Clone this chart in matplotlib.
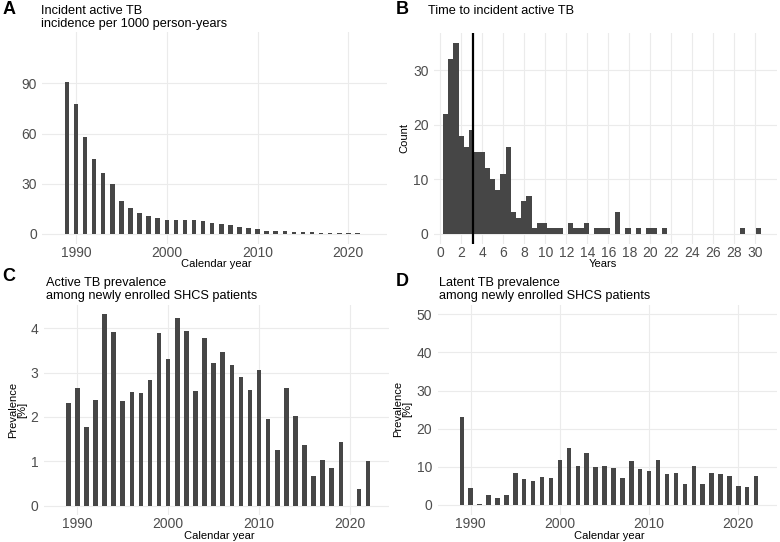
import numpy as np
import matplotlib.pyplot as plt

plt.rcParams['font.family'] = ['Liberation Sans', 'DejaVu Sans']

# Panel A: incidence per 1000 person-years
years = list(range(1989, 2023))
incidence = [91, 77.4, 57.8, 44.8, 36.6, 30, 19.8, 15.8, 12.6, 10.6, 9.8,
             8.6, 8.6, 8.6, 8.4, 7.8, 6.4, 5.8, 5.2, 4.4, 3.4, 3.0, 2.0,
             1.6, 1.6, 1.2, 1.0, 1.0, 0.8, 0.7, 0.5, 0.4, 0.3, 0.2]

# Panel B: histogram of time to incident TB (counts per bin)
hist_start = 0.25
hist_binwidth = 0.497
hist_counts = [22, 32, 35, 18, 16, 19, 15, 15, 12, 10, 8, 11, 16, 4, 3, 6, 7,
               1, 2, 2, 1, 1, 1, 0, 2, 1, 1, 2, 0, 1, 1, 1, 0, 4, 0, 1, 0, 1,
               0, 1, 1, 0, 1, 0, 0, 0, 0, 0, 0, 0, 0, 0, 0, 0, 0, 0, 0, 1, 0,
               0, 1]
median_time = 3.15

# Panel C: active TB prevalence [%]
active_prev = [2.31, 2.65, 1.78, 2.38, 4.32, 3.92, 2.36, 2.56, 2.53, 2.83,
               3.89, 3.31, 4.23, 3.94, 2.59, 3.78, 3.21, 3.46, 3.18, 2.90,
               2.60, 3.07, 1.95, 1.25, 2.65, 2.02, 1.37, 0.68, 1.02, 0.85,
               1.43, 0.0, 0.38, 1.01]

# Panel D: latent TB prevalence [%]
latent_prev = [23.2, 4.4, 0.35, 2.6, 1.75, 2.7, 8.3, 6.8, 6.2, 7.3, 7.2,
               11.7, 15.0, 10.3, 13.5, 10.0, 10.3, 9.6, 7.0, 11.6, 9.4, 9.0,
               11.7, 8.0, 8.3, 5.4, 10.3, 5.4, 8.5, 8.0, 7.7, 4.9, 4.7, 7.7]

W, H = 780, 542
bar_col = '#464646'
grid_col = '#EBEBEB'
tick_col = '#4D4D4D'

fig = plt.figure(figsize=(W / 100, H / 100), dpi=100)


def px_axes(l, t, r, b):
    return fig.add_axes([l / W, 1 - b / H, (r - l) / W, (b - t) / H])


def style(ax):
    for s in ax.spines.values():
        s.set_visible(False)
    ax.set_axisbelow(True)
    ax.grid(True, color=grid_col, linewidth=0.8)
    ax.tick_params(length=0, labelsize=10, labelcolor=tick_col)
    ax.tick_params(axis='x', pad=1.5)
    ax.tick_params(axis='y', pad=4)


def xlab(ax, s, x, top):
    ax.set_xlabel(s, fontsize=8)
    ax.xaxis.set_label_coords(x / W, 1 - top / H, transform=fig.transFigure)


def ylab(ax, s, right, mid):
    ax.set_ylabel(s, fontsize=8, linespacing=0.9)
    ax.yaxis.set_label_coords(right / W, 1 - mid / H, transform=fig.transFigure)


def ftext(x, y, s, **kw):
    fig.text(x / W, 1 - y / H, s, va='baseline', **kw)


# A
axA = px_axes(42.4, 31.9, 387.4, 243.6)
axA.bar(years, incidence, width=0.5, color=bar_col)
axA.set_xlim(1986.3, 2024.3)
axA.set_ylim(-5.75, 120.75)
axA.set_xticks([1990, 2000, 2010, 2020])
axA.set_yticks([0, 30, 60, 90])
style(axA)
xlab(axA, 'Calendar year', 216.3, 259.3)

# B
axB = px_axes(434, 33.5, 777, 243.5)
edges = hist_start + hist_binwidth * np.arange(len(hist_counts))
axB.bar(edges, hist_counts, width=hist_binwidth, align='edge', color=bar_col)
axB.axvline(median_time, color='black', linewidth=1.6)
axB.set_xlim(-0.61, 32.09)
axB.set_ylim(-1.75, 36.75)
axB.set_xticks(range(0, 31, 2))
axB.set_yticks([0, 10, 20, 30])
style(axB)
xlab(axB, 'Years', 603.3, 259.3)
ylab(axB, 'Count', 409, 138)

# C
axC = px_axes(43.7, 304.5, 389, 515.3)
axC.bar(years, active_prev, width=0.5, color=bar_col)
axC.set_xlim(1986.3, 2024.3)
axC.set_ylim(-0.216, 4.536)
axC.set_xticks([1990, 2000, 2010, 2020])
axC.set_yticks([0, 1, 2, 3, 4])
style(axC)
xlab(axC, 'Calendar year', 219, 531)
ylab(axC, 'Prevalence\n[%]', 27.5, 410)

# D
axD = px_axes(437.7, 304.8, 776.7, 514.5)
axD.bar(years, latent_prev, width=0.5, color=bar_col)
axD.set_xlim(1986.3, 2024.3)
axD.set_ylim(-2.5, 52.5)
axD.set_xticks([1990, 2000, 2010, 2020])
axD.set_yticks([0, 10, 20, 30, 40, 50])
style(axD)
xlab(axD, 'Calendar year', 609.5, 531)
ylab(axD, 'Prevalence\n[%]', 412.5, 409)

# panel tags and titles
tag = dict(fontsize=13, fontweight='bold')
ttl = dict(fontsize=9.2)
ftext(2.5, 14, 'A', **tag)
ftext(41, 14, 'Incident active TB', **ttl)
ftext(41, 26.7, 'incidence per 1000 person-years', **ttl)

ftext(396, 14, 'B', **tag)
ftext(427.7, 14, 'Time to incident active TB', **ttl)

ftext(2.5, 280.7, 'C', **tag)
ftext(45.7, 286, 'Active TB prevalence', **ttl)
ftext(45.7, 299, 'among newly enrolled SHCS patients', **ttl)

ftext(396, 286, 'D', **tag)
ftext(439, 286, 'Latent TB prevalence', **ttl)
ftext(439, 299, 'among newly enrolled SHCS patients', **ttl)

fig.savefig('out.png', dpi=100)
